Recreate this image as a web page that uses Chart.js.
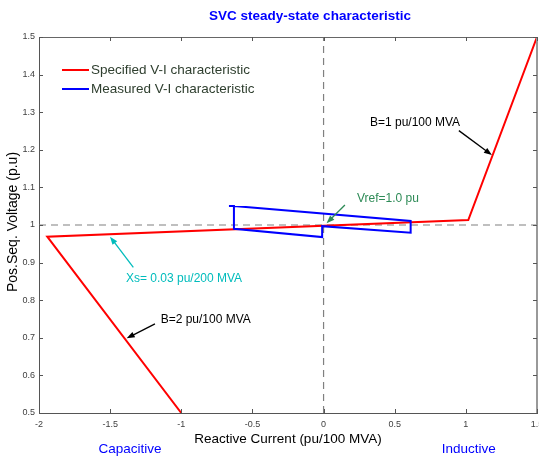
<!DOCTYPE html>
<html>
<head>
<meta charset="utf-8">
<script src="https://cdn.jsdelivr.net/npm/chart.js@4.4.1/dist/chart.umd.min.js"></script>
<style>
  body { margin: 0; background: #ffffff; }
  canvas { display: block; }
</style>
</head>
<body>
<canvas id="svcChart" width="539" height="456"></canvas>
<script>
// specified V-I characteristic (red)
var specI = [-1.0, -1.942, 1.017, 1.5];
var specV = [0.5, 0.969, 1.013, 1.5];

// measured V-I characteristic (blue)
var measI = [-0.665, -0.630, -0.630, -0.010, -0.010, 0.612, 0.612, -0.630];
var measV = [1.0505, 1.0505, 0.990, 0.968, 0.997, 0.9795, 1.0106, 1.0505];

// dashed reference lines V = 1, I = 0
var refLineI = [-2, 1.5];
var refLineV = [0.5, 1.5];
var vref = 1.0;
var iZero = 0;

// annotations: text anchor, arrow tail, arrow tip (data units)
var noteText = ["B=1 pu/100 MVA", "Vref=1.0 pu", "Xs= 0.03 pu/200 MVA", "B=2 pu/100 MVA"];
var noteTextI = [0.326, 0.235, -1.389, -1.145];
var noteTextV = [1.271, 1.069, 0.856, 0.747];
var noteTailI = [0.951, 0.150, -1.337, -1.185];
var noteTailV = [1.251, 1.053, 0.8875, 0.737];
var noteTipI = [1.183, 0.021, -1.501, -1.384];
var noteTipV = [1.186, 1.0045, 0.969, 0.6986];

var sideText = ["Capacitive", "Inductive"];
var sideI = [-1.36, 1.02];

var FONT = "'Liberation Sans', Arial, sans-serif";

function toPoints(xs, ys) {
    var pts = [];
    for (var i = 0; i < xs.length; i++) pts.push({ x: xs[i], y: ys[i] });
    return pts;
}

function fmt(v) {
    return String(Number(v.toFixed(2)));
}

var noteColors = ["#000000", "#2e8b57", "#00bcbc", "#000000"];

var extras = {
    id: "extras",
    afterDraw: function (chart) {
        var ctx = chart.ctx;
        var a = chart.chartArea;
        var xs = chart.scales.x;
        var ys = chart.scales.y;
        ctx.save();

        // box: top and right edges
        ctx.strokeStyle = "#666666";
        ctx.lineWidth = 1;
        ctx.beginPath();
        ctx.moveTo(a.left, a.top + 0.5);
        ctx.lineTo(a.right, a.top + 0.5);
        ctx.stroke();
        ctx.strokeStyle = "#999999";
        ctx.lineWidth = 2;
        ctx.beginPath();
        ctx.moveTo(a.right, a.top);
        ctx.lineTo(a.right, a.bottom);
        ctx.stroke();

        // inward ticks
        ctx.strokeStyle = "#555555";
        ctx.lineWidth = 1;
        ctx.beginPath();
        xs.ticks.forEach(function (t) {
            var px = Math.round(xs.getPixelForValue(t.value)) + 0.5;
            ctx.moveTo(px, a.bottom);
            ctx.lineTo(px, a.bottom - 4);
            ctx.moveTo(px, a.top);
            ctx.lineTo(px, a.top + 4);
        });
        ys.ticks.forEach(function (t) {
            var py = Math.round(ys.getPixelForValue(t.value)) + 0.5;
            ctx.moveTo(a.left, py);
            ctx.lineTo(a.left + 4, py);
            ctx.moveTo(a.right, py);
            ctx.lineTo(a.right - 4, py);
        });
        ctx.stroke();

        // title
        ctx.fillStyle = "#0000ff";
        ctx.font = "bold 13.5px " + FONT;
        ctx.textAlign = "center";
        ctx.textBaseline = "middle";
        ctx.fillText("SVC steady-state characteristic", (a.left + a.right) / 2 + 22, 16);

        // axis titles
        ctx.fillStyle = "#000000";
        ctx.font = "13.5px " + FONT;
        ctx.fillText("Reactive Current (pu/100 MVA)", (a.left + a.right) / 2, 439);
        ctx.save();
        ctx.translate(13, (a.top + a.bottom) / 2 - 3);
        ctx.rotate(-Math.PI / 2);
        ctx.font = "14px " + FONT;
        ctx.fillText("Pos.Seq. Voltage (p.u)", 0, 0);
        ctx.restore();

        // capacitive / inductive
        ctx.fillStyle = "#0000ff";
        ctx.font = "13.5px " + FONT;
        for (var s = 0; s < sideText.length; s++) {
            ctx.fillText(sideText[s], xs.getPixelForValue(sideI[s]), 449);
        }

        // legend
        var legendSets = chart.data.datasets.filter(function (d) { return d.label; });
        ctx.textAlign = "left";
        ctx.font = "13.5px " + FONT;
        legendSets.forEach(function (d, i) {
            var ly = 70 + i * 19;
            ctx.strokeStyle = d.borderColor;
            ctx.lineWidth = 2;
            ctx.beginPath();
            ctx.moveTo(a.left + 23, ly);
            ctx.lineTo(a.left + 50, ly);
            ctx.stroke();
            ctx.fillStyle = "#2f3f2f";
            ctx.fillText(d.label, a.left + 52, ly);
        });

        // annotations with arrows
        ctx.font = "12px " + FONT;
        for (var n = 0; n < noteText.length; n++) {
            var col = noteColors[n];
            var tx = xs.getPixelForValue(noteTailI[n]);
            var ty = ys.getPixelForValue(noteTailV[n]);
            var hx = xs.getPixelForValue(noteTipI[n]);
            var hy = ys.getPixelForValue(noteTipV[n]);
            var ang = Math.atan2(hy - ty, hx - tx);
            ctx.strokeStyle = col;
            ctx.fillStyle = col;
            ctx.lineWidth = 1.3;
            ctx.beginPath();
            ctx.moveTo(tx, ty);
            ctx.lineTo(hx - 6 * Math.cos(ang), hy - 6 * Math.sin(ang));
            ctx.stroke();
            ctx.beginPath();
            ctx.moveTo(hx, hy);
            ctx.lineTo(hx - 8 * Math.cos(ang) + 3 * Math.sin(ang), hy - 8 * Math.sin(ang) - 3 * Math.cos(ang));
            ctx.lineTo(hx - 8 * Math.cos(ang) - 3 * Math.sin(ang), hy - 8 * Math.sin(ang) + 3 * Math.cos(ang));
            ctx.closePath();
            ctx.fill();
            ctx.fillText(noteText[n], xs.getPixelForValue(noteTextI[n]), ys.getPixelForValue(noteTextV[n]));
        }

        ctx.restore();
    }
};

var chart = new Chart(document.getElementById("svcChart"), {
    type: "scatter",
    data: {
        datasets: [
            {
                label: "Specified V-I characteristic",
                data: toPoints(specI, specV),
                showLine: true,
                borderColor: "#ff0000",
                borderWidth: 2,
                pointRadius: 0,
                order: 1
            },
            {
                label: "Measured V-I characteristic",
                data: toPoints(measI, measV),
                showLine: true,
                borderColor: "#0000ff",
                borderWidth: 2,
                pointRadius: 0,
                order: 0
            },
            {
                data: toPoints(refLineI, [vref, vref]),
                showLine: true,
                borderColor: "#808080",
                borderWidth: 1.2,
                borderDash: [7, 5],
                pointRadius: 0,
                order: 3
            },
            {
                data: toPoints([iZero, iZero], refLineV),
                showLine: true,
                borderColor: "#808080",
                borderWidth: 1.2,
                borderDash: [7, 5],
                pointRadius: 0,
                order: 3
            }
        ]
    },
    options: {
        responsive: false,
        animation: false,
        layout: { padding: { top: 37, right: 2, left: 0, bottom: 0 } },
        plugins: {
            legend: { display: false },
            title: { display: false },
            tooltip: { enabled: false }
        },
        scales: {
            x: {
                type: "linear",
                min: -2,
                max: 1.5,
                grid: { display: false, drawTicks: false },
                border: { display: true, color: "#555555", width: 1 },
                ticks: {
                    stepSize: 0.5,
                    autoSkip: false,
                    maxRotation: 0,
                    padding: 6,
                    color: "#404040",
                    font: { size: 9, family: FONT },
                    callback: fmt
                },
                afterFit: function (s) {
                    s.height = 43;
                    s.paddingLeft = 0;
                    s.paddingRight = 0;
                }
            },
            y: {
                type: "linear",
                min: 0.5,
                max: 1.5,
                grid: { display: false, drawTicks: false },
                border: { display: true, color: "#555555", width: 1 },
                ticks: {
                    stepSize: 0.1,
                    autoSkip: false,
                    padding: 4,
                    color: "#404040",
                    font: { size: 9, family: FONT },
                    callback: fmt
                },
                afterFit: function (s) {
                    s.width = 39;
                    s.paddingTop = 0;
                    s.paddingBottom = 0;
                }
            }
        }
    },
    plugins: [extras]
});
</script>
</body>
</html>
